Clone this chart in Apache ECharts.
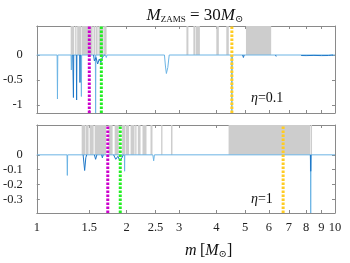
<!DOCTYPE html>
<html><head><meta charset="utf-8">
<script src="https://cdn.jsdelivr.net/npm/echarts@6/dist/echarts.min.js"></script>
<style>html,body{margin:0;padding:0;background:#fff}#c{width:350px;height:263px}</style>
</head><body><div id="c"></div>
<script>
// ---- data ----
const xTicks = [1, 1.5, 2, 2.5, 3, 4, 5, 6, 7, 8, 9, 10];
const topYTicks = [-1, -0.5, 0];
const bottomYTicks = [-0.3, -0.2, -0.1, 0];
const topYRange = [-1.16, 0.58];
const bottomYRange = [-0.39, 0.2];

// gray shaded mass ranges (start / end, in Msun)
const topBandStart = [1.299, 1.345, 1.366, 1.414, 1.549, 1.575, 1.610, 1.682, 3.175, 3.350, 3.415, 4.000, 4.320, 5.028];
const topBandEnd   = [1.335, 1.359, 1.409, 1.539, 1.569, 1.600, 1.675, 1.714, 3.224, 3.402, 3.523, 4.078, 4.404, 6.109];
const bottomBandStart = [1.414, 1.458, 1.504, 1.563, 1.741, 1.824, 1.932, 1.985, 2.063, 2.138, 2.182, 2.262, 2.406, 2.612, 2.818, 4.397, 8.28];
const bottomBandEnd   = [1.453, 1.492, 1.551, 1.708, 1.796, 1.881, 1.977, 2.039, 2.127, 2.160, 2.228, 2.333, 2.443, 2.639, 2.851, 8.250, 8.375];

// eta = 0.1 panel curves
const topLightM = [1, 1.170, 1.173, 1.176, 1.303, 1.306, 1.309, 1.408, 1.411, 1.414, 1.572, 1.575, 1.578, 1.70, 1.71, 1.72, 1.74, 1.76, 1.78, 2.68, 2.70, 2.72, 2.75, 2.78, 4.49, 4.51, 4.53, 10];
const topLightV = [0, 0, -0.88, 0, 0, -0.30, 0, 0, -0.83, 0, 0, -1.16, 0, 0, -0.05, 0, -0.03, 0, 0, 0, -0.22, -0.37, -0.25, 0, 0, -1.16, 0, 0];
const topDarkM = [1.320, 1.324, 1.327, 1.330, 1.334, 1.357, 1.360, 1.363, 1.366, 1.393, 1.396, 1.399, 1.402, 1.55, 1.56, 1.58, 1.60, 1.62, 1.64, 1.66, 1.69, 1.70, 4.90, 4.93, 4.96, 4.97, 6.32, 6.35, 6.38, 6.40, 7.7, 8.0, 8.5, 9.0, 9.5, 9.85];
const topDarkV = [0, 0, -0.85, 0, null, 0, -0.90, 0, null, 0, -0.55, 0, null, 0, -0.12, -0.05, -0.18, -0.08, -0.15, -0.04, 0, null, 0, -0.05, 0, null, 0, -0.03, 0, null, -0.01, -0.012, -0.008, -0.012, -0.01, 0];

// eta = 1 panel curves
const bottomLightM = [1, 1.263, 1.266, 1.269, 1.967, 1.970, 1.973, 2.45, 2.466, 2.48, 8.27, 8.29, 8.31, 10];
const bottomLightV = [0, 0, -0.138, 0, 0, -0.11, 0, 0, -0.04, 0, 0, -0.39, 0, 0];
const bottomDarkM = [1.43, 1.447, 1.46, 1.47, 1.48, 1.56, 1.575, 1.59, 1.60, 1.65, 1.659, 1.67, 1.68, 1.81, 1.84, 1.87, 1.90, 1.93, 1.95, 1.96, 8.27, 8.29, 8.31];
const bottomDarkV = [0, -0.105, -0.02, 0, null, 0, -0.03, 0, null, 0, -0.02, 0, null, 0, -0.03, -0.01, -0.04, -0.02, 0, null, 0, -0.11, 0];

// vertical marker lines (magenta, green, yellow)
const topMarkerM = [1.50, 1.646, 4.51];
const bottomMarkerM = [1.73, 1.905, 6.70];

// ---- chart ----
const L = Math.log10;
const markerColors = ['#cc00cc', '#22ee22', '#ffcc22'];
const lightBlue = '#6cb4e4', darkBlue = '#1f78c8';
const frame = '#8a8a8a';
const serif = '"Liberation Serif", "DejaVu Serif", serif';

function pts(ms, vs) { return ms.map((m, i) => [L(m), vs[i] === null ? '-' : vs[i]]); }

function xAxisPair(gi, showLabels) {
  const base = {
    gridIndex: gi, type: 'value', min: 0, max: 1,
    splitLine: { show: false },
    axisLine: { show: true, onZero: false, lineStyle: { color: frame, width: 1 } },
    axisTick: { show: true, inside: true, length: 3, lineStyle: { color: frame }, customValues: xTicks.map(L) },
  };
  return [
    Object.assign({}, base, { position: 'bottom',
      axisLabel: { show: showLabels, customValues: xTicks.map(L), margin: 8, fontFamily: serif, fontSize: 12.5, color: '#222',
        formatter: v => String(Math.round(Math.pow(10, v) * 10) / 10) } }),
    Object.assign({}, base, { position: 'top', axisLabel: { show: false } })
  ];
}
function yAxisPair(gi, range, ticks) {
  const base = {
    gridIndex: gi, type: 'value', min: range[0], max: range[1],
    splitLine: { show: false },
    axisLine: { show: true, onZero: false, lineStyle: { color: frame, width: 1 } },
    axisTick: { show: true, inside: true, length: 3, lineStyle: { color: frame }, customValues: ticks },
  };
  return [
    Object.assign({}, base, { position: 'left',
      axisLabel: { customValues: ticks, margin: 14, fontFamily: serif, fontSize: 12.5, color: '#222',
        formatter: v => String(v) } }),
    Object.assign({}, base, { position: 'right', axisLabel: { show: false } })
  ];
}

function bandSeries(xi, yi, starts, ends, ymax) {
  return {
    type: 'line', xAxisIndex: xi, yAxisIndex: yi, z: 1, silent: true,
    data: [[0, 0]], symbol: 'none', lineStyle: { opacity: 0 },
    markArea: {
      silent: true, itemStyle: { color: '#cdcdcd' },
      data: starts.map((s, i) => [{ xAxis: L(s), yAxis: 0 }, { xAxis: L(ends[i]), yAxis: ymax }])
    }
  };
}
function curve(xi, yi, ms, vs, color, z) {
  return { type: 'line', xAxisIndex: xi, yAxisIndex: yi, z: z, data: pts(ms, vs), symbol: 'none',
    connectNulls: false, clip: true, lineStyle: { color: color, width: 1 } };
}
function markers(xi, yi, ms, range) {
  return ms.map((m, i) => ({ type: 'line', xAxisIndex: xi, yAxisIndex: yi, z: 5, symbol: 'none',
    data: [[L(m), range[0]], [L(m), range[1]]],
    lineStyle: { color: markerColors[i], width: 3, type: [2.5, 1.5] } }));
}

const chart = echarts.init(document.getElementById('c'), null, { renderer: 'canvas' });
chart.setOption({
  animation: false,
  backgroundColor: '#fff',
  title: {
    left: 190, top: 2, textAlign: 'center',
    text: '{i|M}{s|ZAMS}{n| = 30}{i|M}{o|⊙}',
    textStyle: { fontWeight: 'normal', rich: {
      i: { fontFamily: serif, fontStyle: 'italic', fontWeight: 'normal', fontSize: 17, color: '#111' },
      n: { fontFamily: serif, fontWeight: 'normal', fontSize: 17, color: '#111' },
      s: { fontFamily: serif, fontWeight: 'normal', fontSize: 9, color: '#111', verticalAlign: 'bottom', padding: [6, 0, 0, 0] },
      o: { fontFamily: serif, fontWeight: 'normal', fontSize: 10, color: '#111', verticalAlign: 'bottom', padding: [6, 0, 0, 0] }
    } }
  },
  grid: [
    { left: 36, top: 26, width: 299, height: 87 },
    { left: 36, top: 125, width: 299, height: 88 }
  ],
  xAxis: [...xAxisPair(0, false), ...xAxisPair(1, true)],
  yAxis: [...yAxisPair(0, topYRange, topYTicks), ...yAxisPair(1, bottomYRange, bottomYTicks)],
  graphic: [
    { type: 'text', left: 251, top: 91, style: { text: '{i|η}{n|=0.1}', rich: {
      i: { fontFamily: serif, fontStyle: 'italic', fontSize: 14, fill: '#111' },
      n: { fontFamily: serif, fontSize: 14, fill: '#111' } } } },
    { type: 'text', left: 251, top: 192, style: { text: '{i|η}{n|=1}', rich: {
      i: { fontFamily: serif, fontStyle: 'italic', fontSize: 14, fill: '#111' },
      n: { fontFamily: serif, fontSize: 14, fill: '#111' } } } },
    { type: 'text', left: 185, top: 243, style: { textAlign: 'center', text: '{i|m} {n|[}{i|M}{o|⊙}{n|]}', rich: {
      i: { fontFamily: serif, fontStyle: 'italic', fontSize: 16, fill: '#111' },
      n: { fontFamily: serif, fontSize: 16, fill: '#111' },
      o: { fontFamily: serif, fontSize: 10, fill: '#111', verticalAlign: 'bottom', padding: [6, 0, 0, 0] } } } }
  ],
  series: [
    bandSeries(0, 0, topBandStart, topBandEnd, topYRange[1]),
    bandSeries(2, 2, bottomBandStart, bottomBandEnd, bottomYRange[1]),
    curve(0, 0, topLightM, topLightV, lightBlue, 3),
    curve(0, 0, topDarkM, topDarkV, darkBlue, 4),
    curve(2, 2, bottomLightM, bottomLightV, lightBlue, 3),
    curve(2, 2, bottomDarkM, bottomDarkV, darkBlue, 4),
    ...markers(0, 0, topMarkerM, topYRange),
    ...markers(2, 2, bottomMarkerM, bottomYRange)
  ]
});
</script></body></html>
